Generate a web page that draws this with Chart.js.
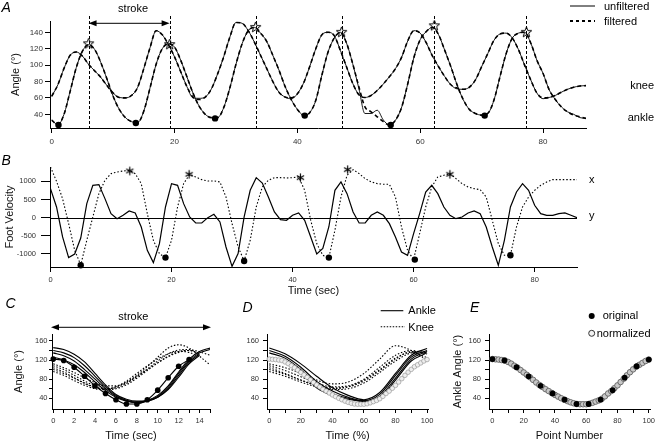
<!DOCTYPE html>
<html>
<head>
<meta charset="utf-8">
<script src="https://cdn.jsdelivr.net/npm/chart.js@4.4.1/dist/chart.umd.min.js"></script>
<style>
  html, body { margin: 0; padding: 0; background: #fff; overflow: hidden; }
  body { width: 657px; height: 441px; position: relative; }
  canvas { position: absolute; }
</style>
</head>
<body>
<canvas id="panelA" width="657" height="148" style="left:0px;top:0px;width:657px;height:148px"></canvas>
<canvas id="panelB" width="657" height="151" style="left:0px;top:148px;width:657px;height:151px"></canvas>
<canvas id="panelC" width="225" height="149" style="left:0px;top:295px;width:225px;height:149px"></canvas>
<canvas id="panelD" width="206" height="149" style="left:237px;top:295px;width:206px;height:149px"></canvas>
<canvas id="panelE" width="220" height="149" style="left:440px;top:295px;width:220px;height:149px"></canvas>
<script>
const FONT = '"Liberation Sans", Arial, Helvetica, sans-serif';

// ---- A: knee / ankle angle vs time (1 sample per second) ----
const aKnee = [62,76,96,112,116,111,101,93,85,75,
  66,60.5,60,63,73,96,121,142,137,125,
  110,92,74,61,58,61,71,89,110,134,
  152,151,142,128,112,96,80,67,61,60,
  65,78,98,120,137,140,136,118,98,78,
  64,60.5,63,69,77,86,96,110,130,142,
  139,127,111,98,86,76,72,70.5,73,82,
  98,114,130,138,139,133,119,100,82,66,
  60,60.5,63,67,70.5,73,74.5,75];
const aKneeRaw = [62,76,96,112,116,111,101,93,85,75,
  66,60.5,60,63,73,96,121,142,137,125,
  110,92,74,60,59.5,61,71,89,110,134,
  152,151,142,128,112,96,80,67,61,59,
  65,78,98,120,137,140,136,118,98,78,
  64,60.5,63,69,77,86,96,110,130,142,
  139,127,111,98,86,76,71,70.5,73,82,
  98,114,130,138,139,133,119,100,82,66,
  59,60.5,63,67,70.5,73,74.5,75];
const aAnkle = [33,27,40,68,97,117,125,119,103,83,
  62,46,36,31,30,44,72,101,120,126,
  122,106,86,66,50,40,36,36,48,72,
  101,126,142,146,139,129,112,94,74,58,
  46,39,42,57,88,116,133,140,127,102,
  74,49,43,37,31,27,33,49,78,110,
  131,141,146,137,118,98,76,58,46,41,
  39,41,57,86,114,133,139,140,127,106,
  90,70,58,49,43,39,37,35];
const aAnkleRaw = [33,27,40,68,97,117,125,119,103,83,
  62,46,36,31,30,44,72,101,120,126,
  122,106,86,66,50,40,36,36,48,72,
  101,126,142,146,139,129,112,94,74,58,
  46,39,42,57,88,116,133,140,127,102,
  72,41,41,45,33,27,33,49,78,110,
  131,141,146,137,118,98,76,58,46,41,
  39,41,57,86,114,133,139,140,127,106,
  90,70,58,49,43,40,36,35];
const aStarX = [6, 19.2, 33.2, 47.2, 62.3, 77.3];
const aStarY = [126, 125, 146, 140, 148, 140];
const aDotX = [1.1, 13.7, 26.6, 41.2, 55.2, 70.5];
const aDotY = [27, 29.4, 35, 38.4, 27, 38.4];
const aXTicks = [0, 20, 40, 60, 80];
const aYTicks = [40, 60, 80, 100, 120, 140];

// ---- B: foot velocity ----
const bVelX = [1394,1000,520,-165,-900,-1300,-623,18,660,1027,
  1210,1256,1284,1300,1210,935,110,-623,-990,-1100,
  -623,293,935,1192,1119,1045,1009,1009,981,568,
  -165,-807,-1190,-623,293,844,1027,1100,1100,1091,
  1100,1119,752,-73,-715,-1036,-1100,-348,568,1164,
  1320,1210,1073,981,935,917,917,568,-257,-899,
  -1155,-440,293,844,1119,1164,1210,1073,935,844,
  798,770,568,-73,-715,-1036,-1036,-257,293,568,
  752,889,981,1045,1045,1045,1045,1045];
const bVelY = [798,293,-532,-1100,-1000,-560,385,889,908,523,
  110,-28,64,183,128,-257,-899,-1238,-715,293,
  935,889,385,18,-147,-147,0,92,-119,-807,
  -1339,-990,18,752,1100,953,568,156,-55,-73,
  64,128,-73,-532,-1000,-850,-250,752,981,660,
  156,-147,-147,64,156,64,-165,-532,-945,-1036,
  -440,110,706,889,660,293,64,-28,18,128,
  183,110,-257,-807,-1311,-623,293,706,935,752,
  339,110,64,64,110,128,64,0];
const bStarX = [13.1, 22.9, 41.3, 49.1, 66];
const bStarY = [1284, 1192, 1100, 1320, 1192];
const bDotX = [5, 19, 32, 46, 60.2, 76];
const bDotY = [-1311, -1100, -1192, -1100, -1155, -1036];
const bXTicks = [0, 20, 40, 60, 80];
const bYTicks = [-1000, -500, 0, 500, 1000];

// ---- C: single strokes, seconds ----
const cAnkle = [
  [146,142,132,116,92,68,48,38,34,36,46,66,95,122,138,145],
  [140,135,125,108,86,64,46,36,32,35,44,63,92,118,135,142],
  [135,129,118,100,80,60,44,35,31,34,42,60,88,115,133],
  [126,120,110,94,74,56,42,34,31,34,42,58,84,112,130]
];
const cKnee = [
  [112,104,94,83,73,66,66,74,88,106,126,145,152,145,128,110],
  [108,100,88,76,66,60,62,71,85,101,118,133,141,142,137,130],
  [100,92,82,72,63,58,60,68,82,98,114,128,138,140,134],
  [96,88,77,67,60,58,64,76,92,108,122,133,138,136,127],
  [104,95,83,71,62,60,64,73,86,100,114,127,136,140,133]
];
const origAngle = [122,119,105,86,66,50,37,28,28,37,57,83,107,121];
const cXTicks = [0,1,2,3,4,5,6,7,8,9,10,11,12,13,14,15];
const angleTicks = [40, 60, 80, 100, 120, 140, 160];

// ---- D: strokes in % of stroke time (every 10 %) ----
const dAnkle = [
  [145,133,112,86,62,46,37,52,92,130,144],
  [140,128,105,75,55,42,35,48,88,126,140],
  [135,124,100,70,50,40,34,44,82,122,138],
  [125,118,95,62,46,38,33,40,78,118,135]
];
const dKnee = [
  [112,104,92,78,70,74,92,122,150,140,120],
  [108,98,85,72,64,66,80,105,130,140,132],
  [100,90,78,68,62,64,76,98,122,138,135],
  [96,86,74,64,60,64,78,100,124,136,125],
  [104,92,78,66,58,60,72,94,118,135,138]
];
const pctTicks = [0,10,20,30,40,50,60,70,80,90,100];

// ---- E: original points vs normalized (every 2nd point number) ----
const origPoint = [0,7.7,15.4,23.1,30.8,38.5,46.2,53.8,61.5,69.2,76.9,84.6,92.3,100];
const normAngle = [122,121.5,121,120,119,116,112.5,108,104,99,
  94,89,84,78.5,73,68,63.5,59,55,51,
  47,43.5,40,37,34,31.5,29.5,28,27.5,27.5,
  27.5,28.5,30.5,33,35.5,39,44,50,55,61,
  67,74,81,88,94.5,100.5,106,110,114,118,
  121];

// helpers
function pts(xs, ys) { return ys.map((y, i) => ({ x: xs[i], y: y })); }
function series(ys, step) { return ys.map((y, i) => ({ x: i * step, y: y })); }

function lineSet(data, o) {
  return {
    data: data, borderColor: '#000', borderWidth: o.w || 1, borderDash: o.dash || [],
    pointRadius: 0, fill: false, tension: 0,
    cubicInterpolationMode: o.smooth ? 'monotone' : 'default'
  };
}
function markSet(data, style, r, o) {
  o = o || {};
  return {
    data: data, showLine: false, pointStyle: style, pointRadius: r,
    pointBackgroundColor: o.bg || '#000', pointBorderColor: o.bc || '#000',
    pointBorderWidth: o.bw || 0, clip: false
  };
}

function starImage(r, inner) {
  const s = Math.ceil(r * 2 + 4);
  const c = document.createElement('canvas');
  c.width = s; c.height = s;
  const g = c.getContext('2d');
  g.translate(s / 2, s / 2);
  g.beginPath();
  for (let i = 0; i < 10; i++) {
    const rr = i % 2 ? inner : r;
    const a = -Math.PI / 2 + i * Math.PI / 5;
    g.lineTo(rr * Math.cos(a), rr * Math.sin(a));
  }
  g.closePath();
  g.strokeStyle = '#000'; g.lineWidth = 1; g.stroke();
  return c;
}
function asteriskImage(r) {
  const s = Math.ceil(r * 2 + 4);
  const c = document.createElement('canvas');
  c.width = s; c.height = s;
  const g = c.getContext('2d');
  g.translate(s / 2, s / 2);
  g.strokeStyle = '#000'; g.lineWidth = 1.2;
  for (let i = 0; i < 3; i++) {
    const a = -Math.PI / 2 + i * Math.PI / 3;
    g.beginPath();
    g.moveTo(-r * Math.cos(a), -r * Math.sin(a));
    g.lineTo(r * Math.cos(a), r * Math.sin(a));
    g.stroke();
  }
  return c;
}

function axis(o) {
  return {
    type: 'linear', position: o.pos, min: o.min, max: o.max,
    afterFit: s => { if (o.pos === 'left') s.width = o.size; else s.height = o.size; },
    afterBuildTicks: s => { s.ticks = o.ticks.map(v => ({ value: v })); },
    border: { display: true, color: '#000', width: 1 },
    grid: { display: true, drawOnChartArea: false, drawTicks: true, tickLength: o.tick, color: '#000', lineWidth: 1 },
    ticks: {
      autoSkip: false, maxRotation: 0, minRotation: 0,
      padding: o.pad, color: '#333', font: { family: FONT, size: o.fs },
      callback: o.every ? (v => (Math.round(v) % o.every === 0 ? String(v) : '')) : (v => String(v))
    },
    title: o.title
      ? { display: true, text: o.title, color: '#111', font: { family: FONT, size: 11 },
          padding: o.pos === 'left' ? { top: o.tpad, bottom: 0 } : { top: 0, bottom: o.tpad } }
      : { display: false }
  };
}

function text(ctx, str, x, y, size, o) {
  o = o || {};
  ctx.save();
  ctx.font = (o.italic ? 'italic ' : '') + size + 'px ' + FONT;
  ctx.fillStyle = '#000';
  ctx.textAlign = o.align || 'left';
  ctx.textBaseline = 'alphabetic';
  ctx.fillText(str, x, y);
  ctx.restore();
}
function hline(ctx, x1, x2, y, w, dash) {
  ctx.save();
  ctx.strokeStyle = '#000'; ctx.lineWidth = w; ctx.setLineDash(dash || []);
  ctx.beginPath(); ctx.moveTo(x1, y); ctx.lineTo(x2, y); ctx.stroke();
  ctx.restore();
}
function arrow(ctx, x1, x2, y) {
  hline(ctx, x1 + 4, x2 - 4, y, 1);
  ctx.save();
  ctx.fillStyle = '#000';
  ctx.beginPath(); ctx.moveTo(x1, y); ctx.lineTo(x1 + 8, y - 3); ctx.lineTo(x1 + 8, y + 3); ctx.closePath(); ctx.fill();
  ctx.beginPath(); ctx.moveTo(x2, y); ctx.lineTo(x2 - 8, y - 3); ctx.lineTo(x2 - 8, y + 3); ctx.closePath(); ctx.fill();
  ctx.restore();
}

function makeChart(id, cfg) {
  return new Chart(document.getElementById(id), {
    type: 'line',
    data: { datasets: cfg.datasets },
    options: {
      responsive: false, animation: false, events: [],
      layout: { padding: cfg.padding },
      plugins: { legend: { display: false }, tooltip: { enabled: false } },
      scales: { x: cfg.x, y: cfg.y }
    },
    plugins: [cfg.notes]
  });
}

const star5 = starImage(5.5, 2.3);
const aster = asteriskImage(4.2);

// Panel A
makeChart('panelA', {
  padding: { top: 21, right: 71, left: 0, bottom: 0 },
  x: axis({ pos: 'bottom', min: -0.28, max: 87, size: 20, tick: 5, pad: 4, fs: 8, ticks: aXTicks }),
  y: axis({ pos: 'left', min: 23.3, max: 153.8, size: 50, tick: 5, pad: 2, fs: 8, ticks: aYTicks, title: 'Angle (°)', tpad: 9.4 }),
  datasets: [
    markSet(pts(aStarX, aStarY), star5, 6),
    markSet(pts(aDotX, aDotY), 'circle', 3.2),
    lineSet(series(aKnee, 1), { w: 1.6, dash: [4, 3], smooth: true }),
    lineSet(series(aAnkle, 1), { w: 1.6, dash: [4, 3], smooth: true }),
    lineSet(series(aKneeRaw, 1), { w: 0.9, smooth: true }),
    lineSet(series(aAnkleRaw, 1), { w: 0.9, smooth: true })
  ],
  notes: {
    id: 'notesA',
    beforeDatasetsDraw(chart) {
      const ctx = chart.ctx, sx = chart.scales.x;
      ctx.save();
      ctx.strokeStyle = '#000'; ctx.lineWidth = 1; ctx.setLineDash([3, 2]);
      aStarX.forEach(v => {
        const px = Math.round(sx.getPixelForValue(v)) + 0.5;
        ctx.beginPath(); ctx.moveTo(px, 16); ctx.lineTo(px, chart.chartArea.bottom); ctx.stroke();
      });
      ctx.restore();
    },
    afterDraw(chart) {
      const ctx = chart.ctx, sx = chart.scales.x;
      text(ctx, 'A', 1.5, 11.7, 14, { italic: true });
      arrow(ctx, sx.getPixelForValue(aStarX[0]), sx.getPixelForValue(aStarX[1]), 23.3);
      text(ctx, 'stroke', (sx.getPixelForValue(aStarX[0]) + sx.getPixelForValue(aStarX[1])) / 2 + 4, 11.5, 11, { align: 'center' });
      hline(ctx, 570, 595, 6, 1);
      text(ctx, 'unfiltered', 604, 9.8, 11);
      hline(ctx, 570, 595, 21, 2, [3, 3]);
      text(ctx, 'filtered', 604, 24.5, 11);
      text(ctx, 'knee', 654, 89, 11, { align: 'right' });
      text(ctx, 'ankle', 654, 120.5, 11, { align: 'right' });
    }
  }
});

// Panel B
makeChart('panelB', {
  padding: { top: 19, right: 80, left: 0, bottom: 0 },
  x: axis({ pos: 'bottom', min: -0.08, max: 87, size: 32, tick: 5, pad: 3.8, fs: 7.5, ticks: bXTicks, title: 'Time (sec)', tpad: 1 }),
  y: axis({ pos: 'left', min: -1358, max: 1393, size: 50, tick: 9, pad: 5, fs: 7.5, ticks: bYTicks, title: 'Foot Velocity', tpad: 3.4 }),
  datasets: [
    markSet(pts(bStarX, bStarY), aster, 5),
    markSet(pts(bDotX, bDotY), 'circle', 3.2),
    lineSet(series(bVelY, 1), { w: 1.2 }),
    lineSet(series(bVelX, 1), { w: 1.1, dash: [1.5, 2] })
  ],
  notes: {
    id: 'notesB',
    beforeDatasetsDraw(chart) {
      const y0 = Math.round(chart.scales.y.getPixelForValue(0)) + 0.5;
      hline(chart.ctx, chart.chartArea.left, chart.chartArea.right, y0, 1);
    },
    afterDraw(chart) {
      const ctx = chart.ctx;
      text(ctx, 'B', 1.5, 17, 14, { italic: true });
      text(ctx, 'x', 589, 35, 11);
      text(ctx, 'y', 589, 71, 11);
    }
  }
});

// Panel C
const cSets = [markSet(series(origAngle, 1), 'circle', 2.8), lineSet(series(origAngle, 1), { w: 1.1, smooth: true })];
cAnkle.forEach(c => cSets.push(lineSet(series(c, 1), { w: 1.1, smooth: true })));
cKnee.forEach(c => cSets.push(lineSet(series(c, 1), { w: 1.1, dash: [1.5, 1.8], smooth: true })));
makeChart('panelC', {
  padding: { top: 39, right: 15, left: 0, bottom: 0 },
  x: axis({ pos: 'bottom', min: -0.12, max: 15, size: 35, tick: 4, pad: 3.7, fs: 7.5, ticks: cXTicks, every: 2, title: 'Time (sec)', tpad: 1.4 }),
  y: axis({ pos: 'left', min: 17.5, max: 174.5, size: 52, tick: 3, pad: 1.5, fs: 7.5, ticks: angleTicks, every: 40, title: 'Angle (°)', tpad: 12.4 }),
  datasets: cSets,
  notes: {
    id: 'notesC',
    afterDraw(chart) {
      const ctx = chart.ctx, a = chart.chartArea;
      text(ctx, 'C', 5.5, 12.7, 14, { italic: true });
      arrow(ctx, a.left - 1, a.right + 1, 32.3);
      text(ctx, 'stroke', 133.3, 25, 11, { align: 'center' });
    }
  }
});

// Panel D
const dSets = [markSet(series(normAngle, 2), 'circle', 2.3, { bg: '#eeeeee', bc: '#9a9a9a', bw: 0.7 })];
dAnkle.forEach(c => dSets.push(lineSet(series(c, 10), { w: 1.1, smooth: true })));
dKnee.forEach(c => dSets.push(lineSet(series(c, 10), { w: 1.1, dash: [1.5, 1.8], smooth: true })));
makeChart('panelD', {
  padding: { top: 39, right: 15, left: 0, bottom: 0 },
  x: axis({ pos: 'bottom', min: -1.45, max: 100.6, size: 35, tick: 4, pad: 3.7, fs: 7.5, ticks: pctTicks, every: 20, title: 'Time (%)', tpad: 1.4 }),
  y: axis({ pos: 'left', min: 17.5, max: 174.5, size: 30, tick: 4, pad: 4, fs: 7.5, ticks: angleTicks, every: 40 }),
  datasets: dSets,
  notes: {
    id: 'notesD',
    afterDraw(chart) {
      const ctx = chart.ctx;
      text(ctx, 'D', 5.5, 16.7, 14, { italic: true });
      hline(ctx, 143.7, 166.3, 15.7, 1.1);
      text(ctx, 'Ankle', 171.3, 19.3, 11);
      hline(ctx, 143.7, 168, 31.7, 1.1, [1.5, 1.5]);
      text(ctx, 'Knee', 171.3, 36, 11);
    }
  }
});

// Panel E
makeChart('panelE', {
  padding: { top: 39, right: 10, left: 0, bottom: 0 },
  x: axis({ pos: 'bottom', min: -2.2, max: 100.8, size: 35, tick: 4, pad: 3.7, fs: 7.5, ticks: pctTicks, every: 20, title: 'Point Number', tpad: 1.4 }),
  y: axis({ pos: 'left', min: 17.5, max: 174.5, size: 49, tick: 4, pad: 4, fs: 7.5, ticks: angleTicks, every: 40, title: 'Ankle Angle (°)', tpad: 11.4 }),
  datasets: [
    markSet(pts(origPoint, origAngle), 'circle', 2.9),
    markSet(series(normAngle, 2), 'circle', 2.8, { bg: '#c8c8c8', bc: '#555', bw: 0.8 })
  ],
  notes: {
    id: 'notesE',
    afterDraw(chart) {
      const ctx = chart.ctx;
      text(ctx, 'E', 30, 16.7, 14, { italic: true });
      ctx.save();
      ctx.fillStyle = '#000';
      ctx.beginPath(); ctx.arc(151.7, 21, 3, 0, Math.PI * 2); ctx.fill();
      ctx.fillStyle = '#f2f2f2'; ctx.strokeStyle = '#333'; ctx.lineWidth = 1;
      ctx.beginPath(); ctx.arc(151.7, 38.3, 3, 0, Math.PI * 2); ctx.fill(); ctx.stroke();
      ctx.restore();
      text(ctx, 'original', 162.7, 23.5, 11);
      text(ctx, 'normalized', 156.7, 42, 11);
    }
  }
});
</script>
</body>
</html>
